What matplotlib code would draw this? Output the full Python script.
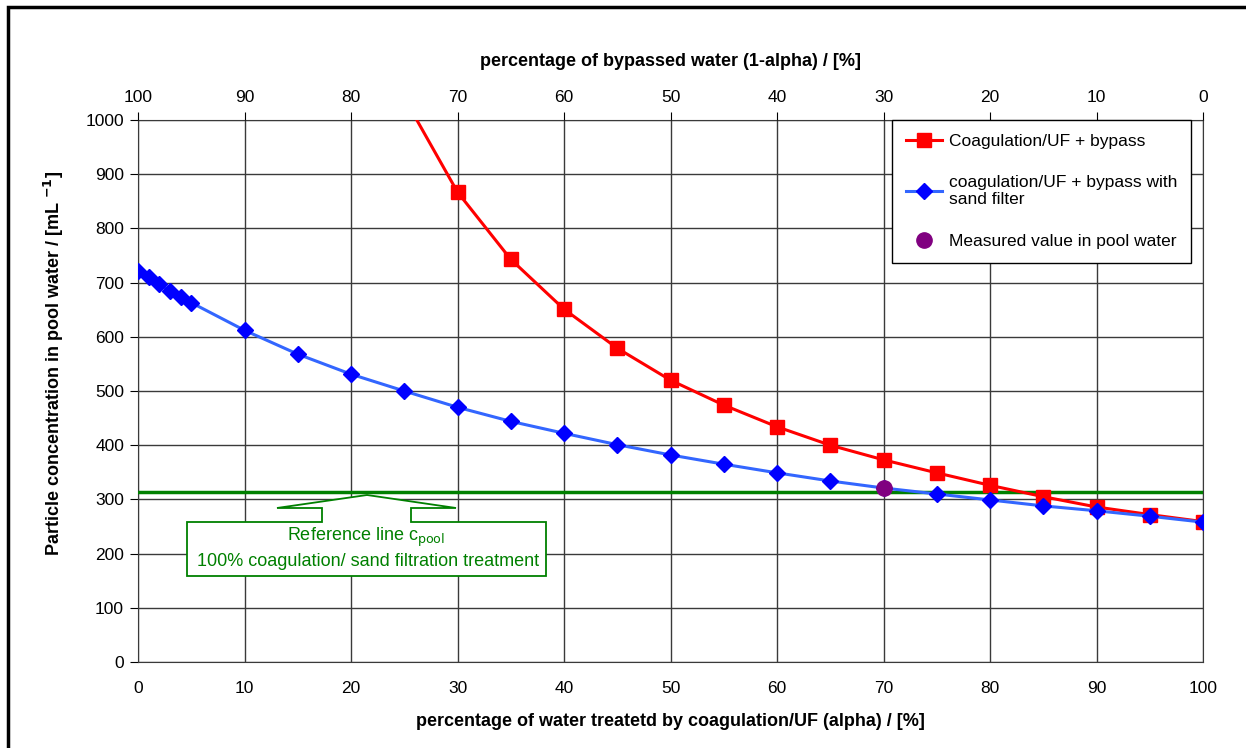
import matplotlib
matplotlib.use("Agg")
import matplotlib.pyplot as plt
from matplotlib.patches import Polygon, Rectangle

plt.rcParams['font.family'] = ['Liberation Sans', 'DejaVu Sans']

# data
alpha_red = [25, 30, 35, 40, 45, 50, 55, 60, 65, 70, 75, 80, 85, 90, 95, 100]
conc_red = [1041, 867, 743, 651, 579, 520, 474, 434, 400, 373, 349, 326, 305, 286, 272, 259]

alpha_blue = [0, 1, 2, 3, 4, 5, 10, 15, 20, 25, 30, 35, 40, 45, 50, 55, 60, 65, 70,
              75, 80, 85, 90, 95, 100]
conc_blue = [721, 710, 697, 685, 674, 663, 612, 568, 531, 500, 470, 444, 422, 401,
             382, 365, 349, 334, 321, 310, 299, 288, 279, 269, 258]

alpha_meas = [70]
conc_meas = [321]

c_pool = 314

top_ticks = list(range(0, 101, 10))
top_labels = [str(100 - t) for t in top_ticks]

fig = plt.figure(figsize=(12.46, 7.48), dpi=100)
ax = fig.add_axes([138/1246, 1 - 662/748, (1203-138)/1246, (662-120)/748])

ax.plot(alpha_red, conc_red, color='#ff0000', lw=2.2, marker='s', ms=10,
        mfc='#ff0000', mec='#ff0000', label='Coagulation/UF + bypass', zorder=4)
ax.plot(alpha_blue, conc_blue, color='#3366ff', lw=2.2, marker='D', ms=8,
        mfc='#0000ff', mec='#0000ff', label='coagulation/UF + bypass with\nsand filter', zorder=4)
ax.plot(alpha_meas, conc_meas, ls='none', marker='o', ms=11, color='#800080',
        label='Measured value in pool water', zorder=5)
ax.axhline(c_pool, color='#008000', lw=2.5, zorder=3)

ax.set_xlim(0, 100)
ax.set_ylim(0, 1000)
ax.set_xticks(range(0, 101, 10))
ax.set_yticks(range(0, 1001, 100))
ax.grid(True, color='#3a3a3a', lw=1)
ax.set_axisbelow(True)
ax.tick_params(axis='x', length=0, labelsize=12.5, pad=14)
ax.tick_params(axis='y', direction='out', length=6, labelsize=12.5, pad=4)
for s in ax.spines.values():
    s.set_color('#3a3a3a')
ax.set_xlabel('percentage of water treatetd by coagulation/UF (alpha) / [%]',
              fontsize=13, fontweight='bold', labelpad=12)
ax.set_ylabel('Particle concentration in pool water / [mL $^{\\mathbf{-1}}$]',
              fontsize=13, fontweight='bold')
ax.yaxis.set_label_coords(-0.068, 0.55)

axt = ax.twiny()
axt.set_xlim(0, 100)
axt.set_xticks(top_ticks)
axt.set_xticklabels(top_labels)
axt.tick_params(axis='x', direction='out', length=6, labelsize=12.5, pad=5)
axt.set_xlabel('percentage of bypassed water (1-alpha) / [%]', fontsize=13,
               fontweight='bold', labelpad=17)
for s in axt.spines.values():
    s.set_visible(False)

leg = ax.legend(loc='upper right', bbox_to_anchor=(0.989, 1.0), fontsize=12.5,
                frameon=True, fancybox=False, edgecolor='black', framealpha=1,
                borderpad=0.8, labelspacing=1.5, handlelength=2.1, handletextpad=0.4,
                borderaxespad=0)
leg.get_frame().set_linewidth(1.0)

# callout pointing at the reference line
def px(xp, yp):
    return ((xp - 138) / 10.65, (662 - yp) / 0.542)
callout = [px(187, 522), px(322, 522), px(322, 508), px(277, 508), px(367, 495),
           px(456, 508), px(411, 508), px(411, 522), px(546, 522), px(546, 576),
           px(187, 576)]
ax.add_patch(Polygon(callout, closed=True, fc='white', ec='#008000', lw=1.3, zorder=6))
ax.text(px(366, 0)[0], px(0, 537)[1], 'Reference line c$_{\\mathrm{pool}}$',
        color='#008000', fontsize=13, ha='center', va='center', zorder=7)
ax.text(px(368, 0)[0], px(0, 562)[1], '100% coagulation/ sand filtration treatment',
        color='#008000', fontsize=13, ha='center', va='center', zorder=7)

fig.patches.append(Rectangle((8/1246, -0.1), 1.1, 1 - 7/748 + 0.1, transform=fig.transFigure,
                             fill=False, ec='black', lw=2.5))

fig.savefig('out.png', dpi=100)
